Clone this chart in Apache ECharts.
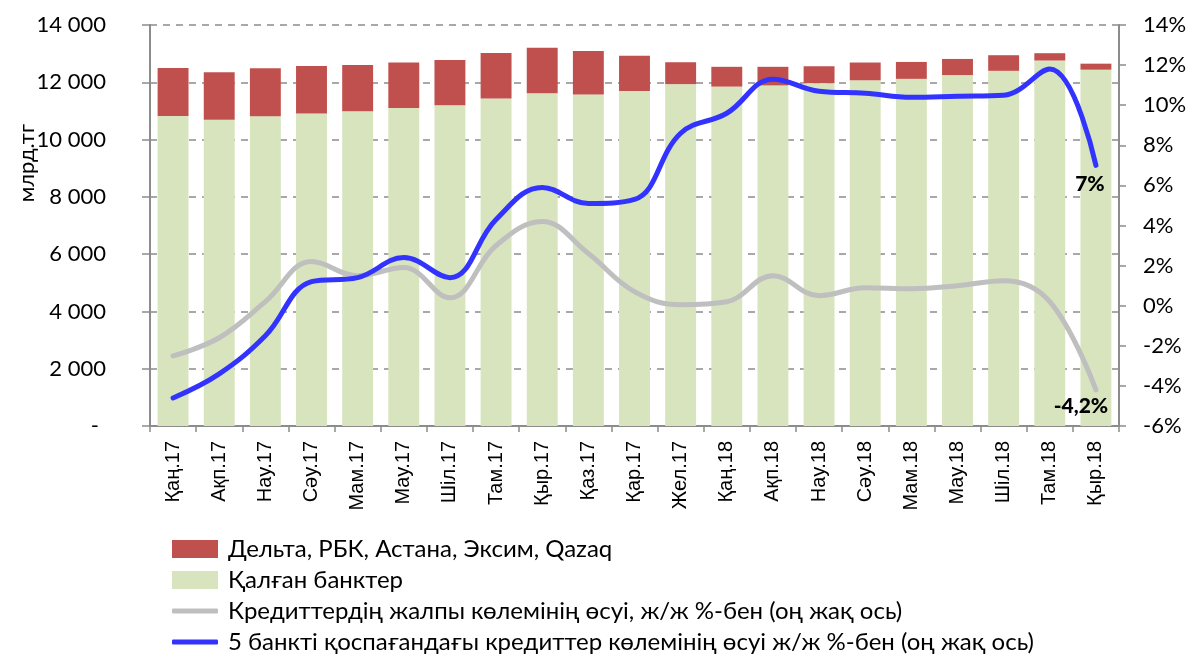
<!DOCTYPE html>
<html>
<head>
<meta charset="utf-8">
<script src="https://cdn.jsdelivr.net/npm/echarts@6/dist/echarts.min.js"></script>
<style>
  html, body { margin: 0; padding: 0; background: #fff; }
  #chart { width: 1191px; height: 655px; }
</style>
</head>
<body>
<div id="chart"></div>
<script>
var months = ['Қаң.17', 'Ақп.17', 'Нау.17', 'Сәу.17', 'Мам.17', 'Мау.17', 'Шіл.17', 'Там.17', 'Қыр.17', 'Қаз.17', 'Қар.17',
    'Жел.17', 'Қаң.18', 'Ақп.18', 'Нау.18', 'Сәу.18', 'Мам.18', 'Мау.18', 'Шіл.18', 'Там.18', 'Қыр.18'];
// млрд.тг
var otherBanks = [10820, 10690, 10810, 10910, 10990, 11100, 11200, 11430, 11620, 11570, 11700,
    11935, 11850, 11890, 11970, 12070, 12120, 12250, 12400, 12760, 12440];
var fiveBanks = [1680, 1660, 1680, 1660, 1610, 1590, 1580, 1595, 1590, 1520, 1230,
    765, 690, 650, 590, 620, 590, 565, 545, 255, 210];
// ж/ж % (оң жақ ось)
var totalGrowth = [-2.5, -1.6, 0.2, 2.2, 1.5, 1.9, 0.4, 3.0, 4.2, 2.6, 0.7,
    0.05, 0.2, 1.5, 0.5, 0.9, 0.85, 1.0, 1.25, 0.2, -4.2];
var growthExFive = [-4.6, -3.4, -1.5, 1.2, 1.4, 2.4, 1.4, 4.3, 5.9, 5.1, 5.3,
    8.6, 9.6, 11.3, 10.7, 10.6, 10.4, 10.45, 10.5, 11.8, 7.0];

var names = ['Дельта, РБК, Астана, Эксим, Qazaq', 'Қалған банктер',
    'Кредиттердің жалпы көлемінің өсуі, ж/ж %-бен (оң жақ ось)',
    '5 банкті қоспағандағы кредиттер көлемінің өсуі ж/ж %-бен (оң жақ ось)'];

var font = 'Lato';
var axisColor = '#8c8c8c';

// one legend per row so they stack like the original
var legendTops = [532, 563, 594, 625];
var legends = names.map(function (n, i) {
    var isLine = i >= 2;
    return {
        orient: 'vertical',
        left: 167, top: legendTops[i],
        itemWidth: 46, itemHeight: isLine ? 5 : 18,
        icon: isLine ? 'roundRect' : 'rect',
        data: [n],
        textStyle: { fontFamily: font, fontSize: 24, color: '#000', lineHeight: 24, padding: [0, 0, 0, 5] }
    };
});

var myChart = echarts.init(document.getElementById('chart'));
var option = {
    animation: false,
    backgroundColor: '#fff',
    grid: { left: 150, right: 72, top: 25, bottom: 229 },
    legend: legends,
    graphic: [{
        type: 'text', left: 16, top: 124, rotation: Math.PI / 2,
        style: { text: 'млрд.тг', fontFamily: font, fontSize: 22, fill: '#000' }
    }],
    xAxis: {
        type: 'category',
        data: months,
        axisLine: { lineStyle: { color: axisColor, width: 2 } },
        axisTick: { show: true, length: 6, lineStyle: { color: axisColor, width: 1.5 } },
        axisLabel: { rotate: 90, fontFamily: 'Liberation Sans', fontSize: 20, color: '#000', margin: 15 }
    },
    yAxis: [{
        type: 'value', min: 0, max: 14000, interval: 2000,
        axisLine: { show: true, lineStyle: { color: axisColor, width: 2 } },
        axisTick: { show: true, length: 8, lineStyle: { color: axisColor, width: 1.5 } },
        splitLine: { lineStyle: { color: '#8c8c8c', type: [7, 6], width: 1.5 } },
        axisLabel: {
            fontFamily: font, fontSize: 22, color: '#000', margin: 44,
            formatter: function (v) {
                if (v === 0) return '{d|-}';
                return String(v).replace(/\B(?=(\d{3})+(?!\d))/g, ' ');
            },
            rich: { d: { fontFamily: font, fontSize: 22, color: '#000', padding: [0, 7, 0, 0] } }
        }
    }, {
        type: 'value', min: -6, max: 14, interval: 2,
        axisLine: { show: true, lineStyle: { color: axisColor, width: 2 } },
        axisTick: { show: true, length: 7, lineStyle: { color: axisColor, width: 1.5 } },
        splitLine: { show: false },
        axisLabel: { fontFamily: font, fontSize: 22, color: '#000', margin: 24, formatter: '{value}%' }
    }],
    series: [{
        name: names[1], type: 'bar', stack: 'total', barWidth: '67%',
        itemStyle: { color: '#d7e4bd' },
        data: otherBanks
    }, {
        name: names[0], type: 'bar', stack: 'total', barWidth: '67%',
        itemStyle: { color: '#c0504d' },
        data: fiveBanks
    }, {
        name: names[2], type: 'line', yAxisIndex: 1, smooth: 0.4,
        symbol: 'none',
        lineStyle: { color: '#bfbfbf', width: 5, cap: 'round' },
        itemStyle: { color: '#bfbfbf' },
        endLabel: {
            show: true, formatter: '-4,2%', distance: 0, align: 'center', verticalAlign: 'middle',
            offset: [-15, 16], fontFamily: font, fontWeight: 900, fontSize: 21, color: '#000'
        },
        data: totalGrowth
    }, {
        name: names[3], type: 'line', yAxisIndex: 1, smooth: 0.4,
        symbol: 'none',
        lineStyle: { color: '#3333ff', width: 5, cap: 'round' },
        itemStyle: { color: '#3333ff' },
        endLabel: {
            show: true, formatter: '7%', distance: 0, align: 'center', verticalAlign: 'middle',
            offset: [-6, 19], fontFamily: font, fontWeight: 900, fontSize: 21, color: '#000'
        },
        data: growthExFive
    }]
};
myChart.setOption(option);
window.addEventListener('resize', function () {
    myChart.resize();
});
</script>
</body>
</html>
